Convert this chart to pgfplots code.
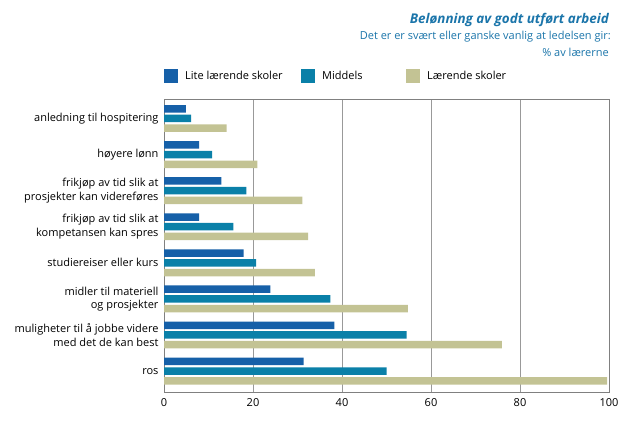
\documentclass[border=0pt]{standalone}
\usepackage{fontspec}
\setmainfont{Open Sans}
\usepackage{pgfplots}
\pgfplotsset{compat=1.18}
\definecolor{c1}{HTML}{1660A8}
\definecolor{c2}{HTML}{0A80A8}
\definecolor{c3}{HTML}{C3C394}
\definecolor{tc}{HTML}{1B75AA}
\begin{document}
\begin{tikzpicture}[x=1pt,y=1pt]
\path (0,0) rectangle (642,424);
\node[anchor=east, font=\bfseries\itshape\fontsize{13.4}{15}\selectfont, text=tc, inner sep=0pt] at (609,404) {Belønning av godt utført arbeid};
\node[anchor=east, font=\fontsize{11}{12}\selectfont, text=tc, inner sep=0pt] at (611,387) {Det er er svært eller ganske vanlig at ledelsen gir:};
\node[anchor=east, font=\fontsize{11}{12}\selectfont, text=tc, inner sep=0pt] at (609,372) {\% av lærerne};
\begin{axis}[at={(164pt,32pt)}, anchor=south west, scale only axis,
  width=445pt, height=293pt,
  xmin=0, xmax=100, ymin=-0.54, ymax=7.58, y dir=reverse,
  xbar, bar width=7.5pt,
  xtick={0,20,40,60,80,100}, ytick={0,1,2,3,4,5,6,7},
  yticklabels={anledning til hospitering, høyere lønn, {frikjøp av tid slik at\\prosjekter kan videreføres}, {frikjøp av tid slik at\\kompetansen kan spres}, studiereiser eller kurs, {midler til materiell\\og prosjekter}, {muligheter til å jobbe videre\\med det de kan best}, ros},
  yticklabel style={align=right, font=\fontsize{11}{13.5}\selectfont, xshift=-2pt},
  xticklabel style={font=\fontsize{11}{12}\selectfont, yshift=-3pt},
  /pgf/number format/assume math mode=true,
  major tick length=0pt,
  xmajorgrids, grid style={draw=gray!80, line width=0.6pt},
  axis line style={draw=gray, line width=0.8pt},
  legend style={at={(0,1)}, anchor=south west, yshift=16pt, draw=none, fill=none,
    font=\fontsize{11}{12}\selectfont, legend columns=3, inner sep=0pt,
    /tikz/every even column/.style={column sep=0pt}},
  legend image code/.code={\fill[#1] (0pt,-7pt) rectangle (14pt,7pt);},
  legend cell align=left,
]
\addplot[fill=c1, draw=none, bar shift=9.7pt] coordinates {(4.9,0) (7.9,1) (12.9,2) (7.9,3) (17.9,4) (23.9,5) (38.3,6) (31.4,7)};
\addlegendentry{\makebox[119pt][l]{\hspace{5pt}Lite lærende skoler}}
\addplot[fill=c2, draw=none, bar shift=0pt] coordinates {(6.1,0) (10.8,1) (18.5,2) (15.6,3) (20.7,4) (37.4,5) (54.5,6) (50.0,7)};
\addlegendentry{\makebox[87pt][l]{\hspace{5pt}Middels}}
\addplot[fill=c3, draw=none, bar shift=-9.7pt] coordinates {(14.1,0) (21.0,1) (31.1,2) (32.4,3) (33.9,4) (54.8,5) (75.9,6) (99.6,7)};
\addlegendentry{\hspace{5pt}Lærende skoler}
\end{axis}
\end{tikzpicture}
\end{document}
